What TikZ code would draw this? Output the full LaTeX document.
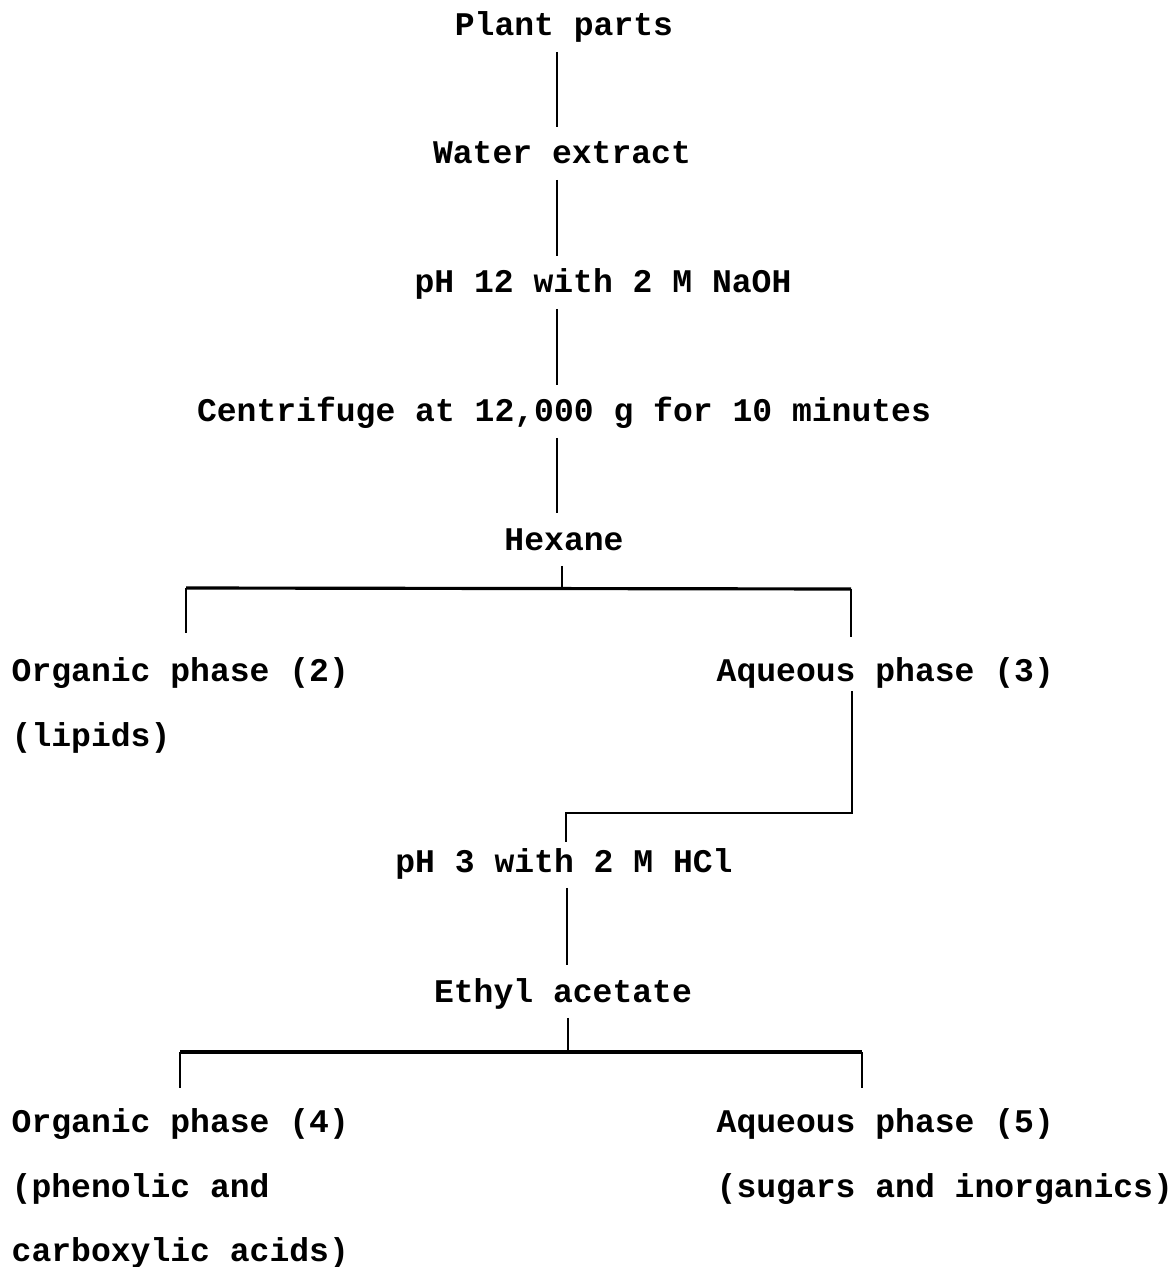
\documentclass[tikz,border=0pt]{standalone}
\usepackage{fontspec}
\setmainfont{Liberation Mono}
\tikzset{
    step text/.style={font=\fontsize{9.4pt}{11pt}\selectfont\bfseries, inner xsep=0pt, inner ysep=0.28em, text height=0.75em, text depth=0.15em},
    link/.style={line width=0.6pt},
    bar/.style={line width=0.9pt}
}

\begin{document}
\begin{tikzpicture}[x=0.01cm, y=-0.01cm]
            \useasboundingbox (0,0) rectangle (1170,1267);
            \node[step text, anchor=base] (plant) at (564,36) {Plant parts};
            \node[step text, anchor=base] (water) at (562,164) {Water extract};
            \node[step text, anchor=base] (ph12) at (603,293) {pH 12 with 2 M NaOH};
            \node[step text, anchor=base] (centri) at (564,422) {Centrifuge at 12,000 g for 10 minutes};
            \node[step text, anchor=base] (hexane) at (564,550) {Hexane};
            \coordinate (spine) at (557,0);
            \draw[link] (plant.south -| spine) -- (water.north -| spine);
            \draw[link] (water.south -| spine) -- (ph12.north -| spine);
            \draw[link] (ph12.south -| spine) -- (centri.north -| spine);
            \draw[link] (centri.south -| spine) -- (hexane.north -| spine);
            % first split
            \coordinate (hexbar) at (562,588);
            \coordinate (hexL) at (186,588);
            \coordinate (hexR) at (851,589);
            \coordinate (org2top) at (186,633);
            \coordinate (aq3top) at (851,637);
            \draw[link] (hexane.south -| hexbar) -- (hexbar);
            \draw[bar] (hexL) -- (hexR);
            \draw[link] (hexL) -- (org2top);
            \draw[link] (hexR) -- (aq3top);
            \node[step text, anchor=base west] (org2) at (11,681) {Organic phase (2)};
            \node[step text, anchor=base west] (aq3) at (716,681) {Aqueous phase (3)};
            \node[step text, anchor=base west] (lipids) at (11,746) {(lipids)};
            % aqueous phase goes on
            \coordinate (aqdown) at (852,691);
            \coordinate (aqturn) at (852,813);
            \coordinate (ph3top) at (566,842);
            \node[step text, anchor=base] (ph3) at (564,872) {pH 3 with 2 M HCl};
            \draw[link] (aqdown) -- (aqturn) -| (ph3top);
            \node[step text, anchor=base] (ethyl) at (563,1002) {Ethyl acetate};
            \coordinate (spinetwo) at (567,0);
            \draw[link] (ph3.south -| spinetwo) -- (ethyl.north -| spinetwo);
            % second split
            \coordinate (ethbar) at (568,1052);
            \coordinate (ethL) at (180,1052);
            \coordinate (ethR) at (862,1052);
            \coordinate (org4top) at (180,1088);
            \coordinate (aq5top) at (862,1088);
            \draw[link] (ethyl.south -| ethbar) -- (ethbar);
            \draw[bar] (ethL) -- (ethR);
            \draw[link] (ethL) -- (org4top);
            \draw[link] (ethR) -- (aq5top);
            \node[step text, anchor=base west] (org4) at (11,1132) {Organic phase (4)};
            \node[step text, anchor=base west] (aq5) at (716,1132) {Aqueous phase (5)};
            \node[step text, anchor=base west] (phen) at (11,1197) {(phenolic and};
            \node[step text, anchor=base west] (sugars) at (716,1197) {(sugars and inorganics)};
            \node[step text, anchor=base west] (carb) at (11,1261) {carboxylic acids)};
        \end{tikzpicture}
\end{document}
